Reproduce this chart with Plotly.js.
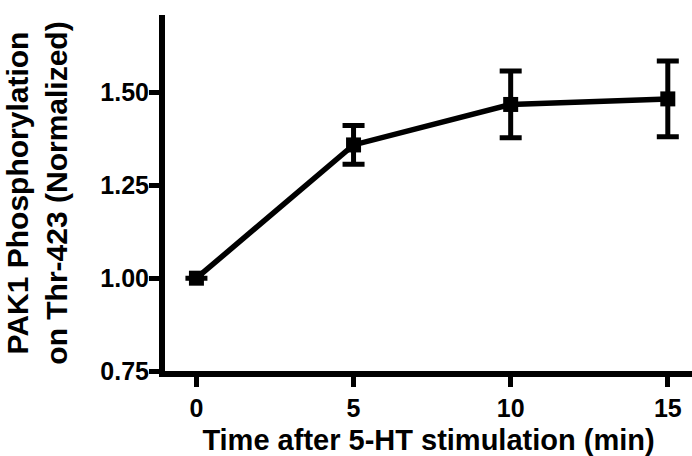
<!DOCTYPE html>
<html>
<head>
<meta charset="utf-8">
<script src="https://cdn.plot.ly/plotly-3.0.1.min.js"></script>
<style>html,body{margin:0;padding:0;background:#fff;}#chart{width:692px;height:456px;}</style>
</head>
<body>
<div id="chart"></div>
<script>
const timeMin = [0, 5, 10, 15];
const pak1Phos = [1.00, 1.359, 1.468, 1.483];
const pak1Err = [0.0, 0.052, 0.09, 0.102];
const xTickVals = [0, 5, 10, 15];
const yTickVals = [0.75, 1.00, 1.25, 1.50];
const yTickText = ['0.75', '1.00', '1.25', '1.50'];

const trace = {
  x: timeMin,
  y: pak1Phos,
  type: 'scatter',
  mode: 'lines+markers',
  line: {color: '#000', width: 5.5},
  marker: {symbol: 'square', size: 15, color: '#000'},
  error_y: {type: 'data', array: pak1Err, visible: true, color: '#000', thickness: 5, width: 11},
  showlegend: false,
  hoverinfo: 'skip'
};

const fontFam = 'Liberation Sans, Arial, sans-serif';
const layout = {
  width: 692, height: 456,
  margin: {l: 165, r: 0, t: 15, b: 85, pad: 0},
  paper_bgcolor: '#fff', plot_bgcolor: '#fff',
  xaxis: {
    range: [-1.0, 15.77],
    tickvals: xTickVals,
    ticks: 'outside', ticklen: 10, tickwidth: 5, tickcolor: '#000',
    showline: true, linewidth: 6, linecolor: '#000',
    showgrid: false, zeroline: false,
    tickfont: {family: fontFam, size: 25, color: '#000', weight: 'bold'},
    title: {text: 'Time after 5-HT stimulation (min)', standoff: 12,
            font: {family: fontFam, size: 29, color: '#000', weight: 'bold'}}
  },
  yaxis: {
    range: [0.75, 1.709],
    tickvals: yTickVals, ticktext: yTickText,
    ticks: 'outside', ticklen: 10, tickwidth: 5, tickcolor: '#000',
    ticklabelstandoff: -5,
    showline: true, linewidth: 6, linecolor: '#000',
    showgrid: false, zeroline: false,
    tickfont: {family: fontFam, size: 25, color: '#000', weight: 'bold'},
    title: {text: 'PAK1 Phosphorylation<br>on Thr-423 (Normalized)', standoff: 26,
            font: {family: fontFam, size: 30, color: '#000', weight: 'bold'}}
  }
};

Plotly.newPlot('chart', [trace], layout, {displayModeBar: false, staticPlot: true});
</script>
</body>
</html>
